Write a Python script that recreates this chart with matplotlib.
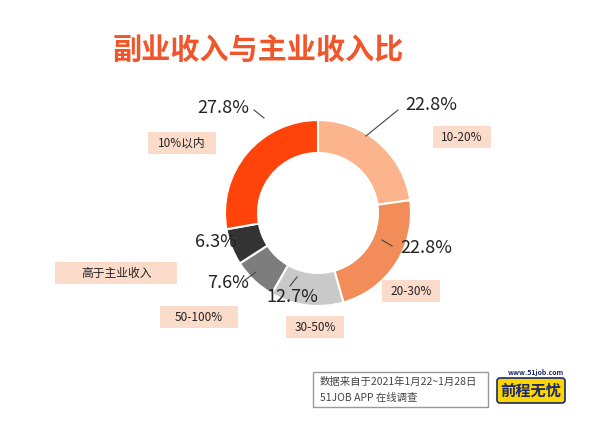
import matplotlib
matplotlib.use("Agg")
import matplotlib.pyplot as plt
from matplotlib.patches import FancyBboxPatch, Rectangle

plt.rcParams['font.family'] = ['Noto Sans CJK SC', 'DejaVu Sans']

categories = ['10-20%', '20-30%', '30-50%', '50-100%', '高于主业收入', '10%以内']
values = [22.8, 22.8, 12.7, 7.6, 6.3, 27.8]
pct_labels = ['22.8%', '22.8%', '12.7%', '7.6%', '6.3%', '27.8%']
colors = ['#FBB48C', '#F28C58', '#C9C9C9', '#7D7D7D', '#333333', '#FF430A']

W, H = 593, 444
fig = plt.figure(figsize=(W/100, H/100), dpi=100)

cx, cy, R = 318, 213, 93
ax = fig.add_axes([(cx-R)/W, 1-(cy+R)/H, 2*R/W, 2*R/H])
ax.pie(values, colors=colors, startangle=90, counterclock=False,
       wedgeprops=dict(width=33/93, edgecolor='white', linewidth=1.5), radius=1)
ax.set_xlim(-1, 1); ax.set_ylim(-1, 1); ax.set_aspect('equal')
ax.set_zorder(1)

bg = fig.add_axes([0, 0, 1, 1])
bg.set_xlim(0, W); bg.set_ylim(H, 0); bg.axis('off')
bg.set_zorder(2); bg.patch.set_alpha(0)

bg.text(258, 50, '副业收入与主业收入比', fontsize=21, fontweight='bold',
        color='#F0562A', ha='center', va='center')

pcts = [(431, 105), (426, 248), (292, 297), (228, 283), (216, 242), (223, 108)]
lines = [((398, 110), (366, 136)), ((382, 240), (392, 246)), ((290, 286), (297, 277)),
         ((245, 280), (256, 272)), ((236, 238), (232, 240)), ((254, 110), (264, 118))]
for (x, y), t in zip(pcts, pct_labels):
    bg.text(x, y, t, fontsize=13, color='#222222', ha='center', va='center')
for (a, b) in lines:
    bg.plot([a[0], b[0]], [a[1], b[1]], color='#444444', lw=0.8)

boxes = [(433, 126, 58, 22), (382, 280, 58, 22), (286, 316, 58, 22),
         (160, 306, 78, 22), (55, 262, 122, 22), (148, 132, 68, 22)]
for (x, y, w, h), c in zip(boxes, categories):
    bg.add_patch(Rectangle((x, y), w, h, facecolor='#FBDCCB', edgecolor='none'))
    bg.text(x + w/2, y + h/2, c, fontsize=8.5, color='#222222', ha='center', va='center')

bg.add_patch(Rectangle((313, 372), 175, 35, facecolor='white', edgecolor='#999999', lw=1))
bg.text(320, 382, '数据来自于2021年1月22~1月28日', fontsize=7.5, color='#444444', va='center')
bg.text(320, 398, '51JOB APP 在线调查', fontsize=7.5, color='#444444', va='center')

bg.add_patch(FancyBboxPatch((497, 378), 68, 25, boxstyle='round,pad=0,rounding_size=3',
                            facecolor='#FFD500', edgecolor='#1A2A6C', lw=1.2))
bg.text(536, 372, 'www.51job.com', fontsize=5, color='#1A2A6C', ha='center',
        va='center', fontweight='bold')
bg.text(531, 391, '前程无忧', fontsize=11, color='#1A2A6C', ha='center', va='center',
        fontweight='bold', style='italic')

fig.savefig('out.png', dpi=100, facecolor='white')
